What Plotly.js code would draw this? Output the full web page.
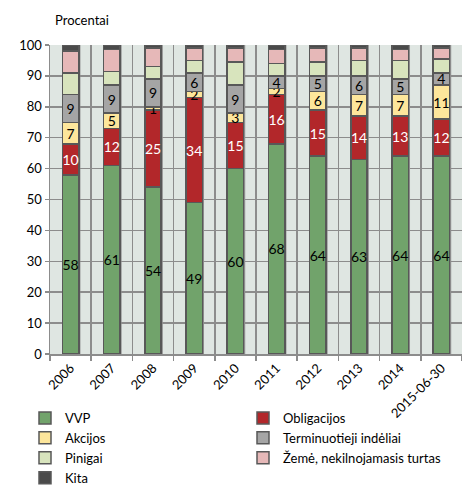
<!DOCTYPE html>
<html>
<head>
<meta charset="utf-8">
<script src="https://cdn.plot.ly/plotly-3.0.1.min.js"></script>
<style>html,body{margin:0;padding:0;background:#fff;}#chart{width:462px;height:486px;}</style>
</head>
<body>
<div id="chart"></div>
<script>
const categories = ['2006','2007','2008','2009','2010','2011','2012','2013','2014','2015-06-30'];
const vvp = [58,61,54,49,60,68,64,63,64,64];
const obligacijos = [10,12,25,34,15,16,15,14,13,12];
const akcijos = [7,5,1,2,3,2,6,7,7,11];
const terminuotieji = [9,9,9,6,9,4,5,6,5,4];
const pinigai = [7,4.5,4,4,7.5,4,4.5,5,6,4.5];
const zeme = [7,7,6,4,4.5,4.5,4.5,4,3.5,3.5];
const kita = [2,1.5,1,1,1,1.5,1,1,1.5,1];
const yTicks = [0,10,20,30,40,50,60,70,80,90,100];

const FONT = 'Lato, "Open Sans", sans-serif';
const series = [
  {name:'VVP', y:vvp, color:'#71a36b', label:true, tc:'#000', lg:'legend'},
  {name:'Obligacijos', y:obligacijos, color:'#b2272a', label:true, tc:'#fff', lg:'legend2'},
  {name:'Akcijos', y:akcijos, color:'#fde69b', label:true, tc:'#000', lg:'legend'},
  {name:'Terminuotieji indėliai', y:terminuotieji, color:'#a5a5a5', label:true, tc:'#000', lg:'legend2'},
  {name:'Pinigai', y:pinigai, color:'#d8e4bd', label:false, lg:'legend'},
  {name:'Žemė, nekilnojamasis turtas', y:zeme, color:'#e6b8b8', label:false, lg:'legend2'},
  {name:'Kita', y:kita, color:'#4a4a4a', label:false, lg:'legend'}
];

const traces = series.map(s => {
  const t = {
    type:'bar', name:s.name, x:categories, y:s.y, width:0.4, legend:s.lg,
    marker:{color:s.color, line:{color:'#585858', width:1.5}},
    hoverinfo:'skip'
  };
  if (s.label) {
    t.text = s.y.map(v => String(v));
    t.textposition = 'inside';
    t.insidetextanchor = 'middle';
    t.textangle = 0;
    t.constraintext = 'none';
    t.textfont = {family:FONT, size:14, color:s.tc};
  } else {
    t.textposition = 'none';
  }
  return t;
});

const shapes = categories.map((c,i) => ({
  type:'line', layer:'below', xref:'x', yref:'y domain',
  x0:i+0.22, x1:i+0.22, y0:0, y1:1,
  line:{color:'#8c8c8c', width:1.5}
}));

const legendBase = {orientation:'v', xref:'paper', yref:'container', xanchor:'left', yanchor:'top',
  traceorder:'normal', itemwidth:30, font:{family:FONT, size:13, color:'#000'},
  bgcolor:'rgba(0,0,0,0)', tracegroupgap:0, itemclick:false};

const layout = {
  width:462, height:486,
  margin:{l:50, r:0, t:45, b:132},
  paper_bgcolor:'#ffffff', plot_bgcolor:'#dfe6e2',
  barmode:'stack', bargap:0.6,
  font:{family:FONT, size:13, color:'#000'},
  title:{text:'Procentai', xref:'container', yref:'container', x:55/462, xanchor:'left', y:1-20/486, yanchor:'middle', font:{family:FONT, size:13, color:'#000'}},
  uniformtext:{mode:'show', minsize:14},
  showlegend:true,
  legend:Object.assign({}, legendBase, {x:-25/412, y:1-403/486}),
  legend2:Object.assign({}, legendBase, {x:193/412, y:1-403/486}),
  xaxis:{type:'category', tickson:'boundaries', showgrid:true, gridcolor:'#8c8c8c', gridwidth:1.5,
    showline:true, linecolor:'#8c8c8c', linewidth:1.5, ticks:'outside', ticklen:5, tickcolor:'#8c8c8c', tickwidth:1.5,
    tickangle:-45, tickfont:{family:FONT, size:13, color:'#000'}, automargin:false, fixedrange:true},
  yaxis:{range:[0,100], tickvals:yTicks, showgrid:true, gridcolor:'#8c8c8c', gridwidth:1.5, zeroline:false,
    showline:true, linecolor:'#8c8c8c', linewidth:1.5, ticks:'outside', ticklen:4, tickcolor:'#8c8c8c', tickwidth:1.5,
    tickfont:{family:FONT, size:13, color:'#000'}, automargin:false, fixedrange:true},
  shapes:shapes
};

Plotly.newPlot('chart', traces, layout, {displayModeBar:false, staticPlot:true});
</script>
</body>
</html>
